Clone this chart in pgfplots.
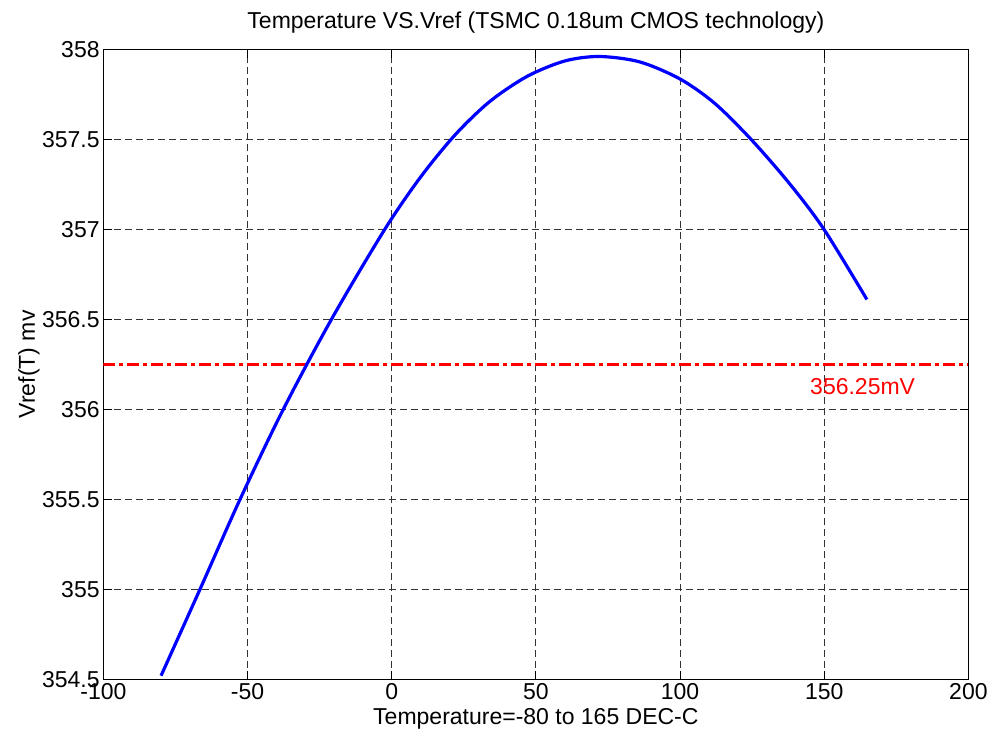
\documentclass[border=0pt]{standalone}
\usepackage{fontspec}
\setmainfont{Liberation Sans}
\usepackage{pgfplots}
\pgfplotsset{compat=1.18}
\newcommand{\chartfont}{\fontsize{11.5}{13.8}\selectfont}
\begin{document}
\chartfont
\begin{tikzpicture}
\path[use as bounding box] (-51.7pt,-26.85pt) rectangle (444.3pt,339.65pt);
\begin{axis}[
  at={(0pt,0pt)}, anchor=south west,
  scale only axis, width=432.5pt, height=315pt,
  xmin=-100, xmax=200, ymin=354.5, ymax=358,
  xtick={-100,-50,0,50,100,150,200},
  ytick={354.5,355,355.5,356,356.5,357,357.5,358},
  scaled ticks=false,
  /pgf/number format/assume math mode=true,
  /pgf/number format/fixed,
  /pgf/number format/precision=1,
  /pgf/number format/1000 sep={},
  tick align=inside,
  major tick length=4.3pt,
  tick style={black, line width=0.5pt},
  axis line style={black, line width=0.5pt},
  grid=major,
  major grid style={black!80, line width=0.45pt, dash pattern=on 3.5pt off 2pt},
  every tick label/.append style={font=\chartfont},
  yticklabel style={inner sep=0pt, xshift=-1.7pt},
  xticklabel style={inner sep=0pt, yshift=-1.9pt},
  every axis title shift=0pt,
  title={Temperature VS.Vref (TSMC 0.18um CMOS technology)},
  title style={at={(axis description cs:0.5,1.0333)}, anchor=base, inner sep=0pt, font=\chartfont},
  xlabel={Temperature=-80 to 165 DEC-C},
  xlabel style={at={(axis description cs:0.5,-0.0711)}, anchor=base, inner sep=0pt, font=\chartfont},
  ylabel={Vref(T) mv},
  ylabel style={at={(axis description cs:-0.0791,0.5)}, anchor=base, inner sep=0pt, font=\chartfont},
]
\addplot[red, line width=1.6pt, dash pattern=on 6pt off 2pt on 2pt off 2pt] coordinates {(-100,356.25) (200,356.25)};
\addplot[blue, line width=1.6pt, smooth] coordinates {
(-80,354.52) (-66.5,355.0) (-52.6,355.5) (-37.6,356.0) (-20.9,356.5)
(-2.4,357.0) (10,357.29) (22,357.525) (34,357.71) (47,357.85)
(60,357.935) (72,357.96) (86,357.93) (100,357.835) (112,357.70)
(124.6,357.5) (137.9,357.255) (149.9,357.0) (164.8,356.61)
};
\node[red, anchor=base west, inner sep=0pt, font=\chartfont] at (axis cs:145,356.08) {356.25mV};
\end{axis}
\end{tikzpicture}
\end{document}
